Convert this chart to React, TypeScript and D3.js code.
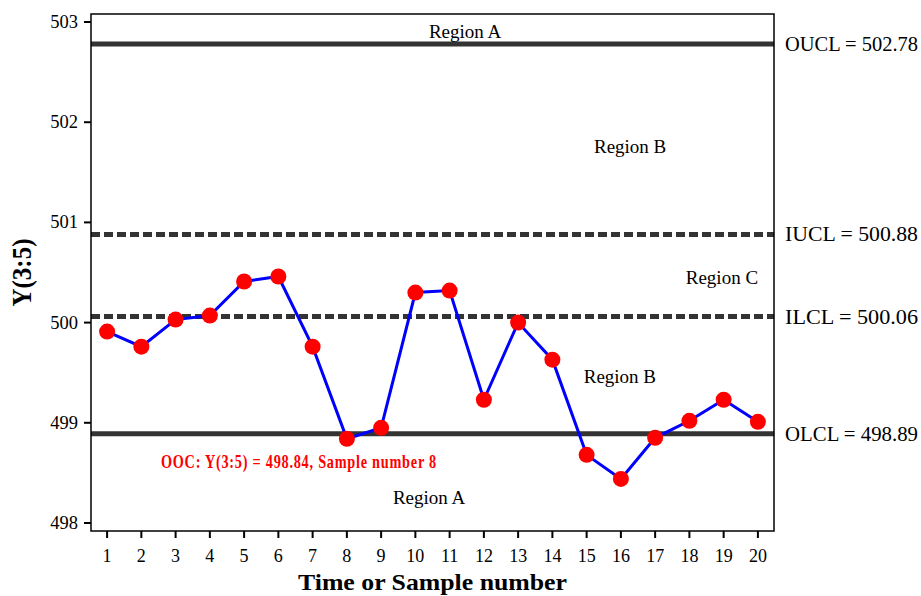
import React from "react";
import * as d3 from "d3";

// sample values
const samples = [1, 2, 3, 4, 5, 6, 7, 8, 9, 10, 11, 12, 13, 14, 15, 16, 17, 18, 19, 20];
const values = [
  499.91, 499.76, 500.03, 500.07, 500.41, 500.46, 499.76, 498.84, 498.95, 500.3,
  500.32, 499.23, 500.0, 499.63, 498.68, 498.44, 498.85, 499.02, 499.23, 499.01,
];
const yTicks = [498, 499, 500, 501, 502, 503];

const limitNames = ["OUCL", "IUCL", "ILCL", "OLCL"];
const limitValues = [502.78, 500.88, 500.06, 498.89];
const limitDashed = [false, true, true, false];

const regionLabels = ["Region A", "Region B", "Region C", "Region B", "Region A"];
const regionX = [11.45, 16.27, 18.95, 15.97, 10.4];
const regionY = [502.91, 501.76, 500.45, 499.46, 498.25];

const oocText = "OOC: Y(3:5) = 498.84, Sample number 8";
const oocAt = [6.6, 498.61];

const W = 921;
const H = 596;
const margin = { top: 14, right: 147, bottom: 65, left: 91 };
const serif = "'Liberation Serif', 'Times New Roman', serif";

export default function App() {
  const x = d3.scaleLinear().domain([0.53, 20.47]).range([margin.left, W - margin.right]);
  const y = d3.scaleLinear().domain([497.92, 503.08]).range([H - margin.bottom, margin.top]);
  const [x0, x1] = x.range();
  const [yb, yt] = y.range();

  const line = d3
    .line<number>()
    .x((_, i) => x(samples[i]))
    .y((d) => y(d));

  return (
    <svg
      width={W}
      height={H}
      style={{ position: "absolute", left: 0, top: 0, background: "#fff" }}
      fontFamily={serif}
    >
      {/* y axis ticks */}
      {yTicks.map((t) => (
        <g key={t}>
          <line x1={x0 - 7} x2={x0} y1={y(t)} y2={y(t)} stroke="#000" strokeWidth={2} />
          <text x={x0 - 13} y={y(t)} textAnchor="end" dominantBaseline="central" fontSize={18.5}>
            {t}
          </text>
        </g>
      ))}
      {/* x axis ticks */}
      {samples.map((s) => (
        <g key={s}>
          <line x1={x(s)} x2={x(s)} y1={yb} y2={yb + 7} stroke="#000" strokeWidth={2} />
          <text x={x(s)} y={yb + 25} textAnchor="middle" dominantBaseline="central" fontSize={18}>
            {s}
          </text>
        </g>
      ))}

      {/* control limits */}
      {limitValues.map((v, i) => (
        <g key={limitNames[i]}>
          <line
            x1={x0}
            x2={x1}
            y1={y(v)}
            y2={y(v)}
            stroke="#333"
            strokeWidth={5}
            strokeDasharray={limitDashed[i] ? "9,4" : undefined}
          />
          <text
            x={x1 + 11}
            y={y(v)}
            dominantBaseline="central"
            fontSize={21}
            textLength={133}
            lengthAdjust="spacingAndGlyphs"
          >
            {`${limitNames[i]} = ${v.toFixed(2)}`}
          </text>
        </g>
      ))}

      {/* region labels */}
      {regionLabels.map((r, i) => (
        <text
          key={i}
          x={x(regionX[i])}
          y={y(regionY[i])}
          textAnchor="middle"
          dominantBaseline="central"
          fontSize={19}
        >
          {r}
        </text>
      ))}

      <path d={line(values) ?? ""} fill="none" stroke="#0000ff" strokeWidth={3} />
      {values.map((v, i) => (
        <circle key={i} cx={x(samples[i])} cy={y(v)} r={8} fill="#ff0000" />
      ))}

      <text
        x={x(oocAt[0])}
        y={y(oocAt[1])}
        textAnchor="middle"
        dominantBaseline="central"
        fontSize={19}
        fontWeight="bold"
        letterSpacing={1}
        textLength={276}
        lengthAdjust="spacingAndGlyphs"
        fill="#ff0000"
      >
        {oocText}
      </text>

      {/* frame */}
      <rect x={x0} y={yt} width={x1 - x0} height={yb - yt} fill="none" stroke="#000" strokeWidth={1.5} />

      <text
        x={298}
        y={590}
        fontSize={24}
        fontWeight="bold"
        textLength={269}
        lengthAdjust="spacingAndGlyphs"
      >
        Time or Sample number
      </text>
      <text
        transform={`translate(22,${(yt + yb) / 2}) rotate(-90)`}
        textAnchor="middle"
        dominantBaseline="central"
        fontSize={27}
        fontWeight="bold"
        textLength={68}
        lengthAdjust="spacingAndGlyphs"
      >
        Y(3:5)
      </text>
    </svg>
  );
}
